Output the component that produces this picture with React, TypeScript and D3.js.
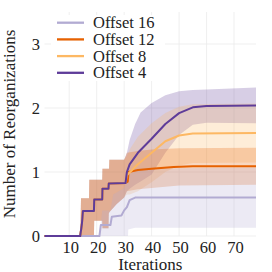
import * as React from 'react';
import * as d3 from 'd3';

// ---- data ----
const xTicks = [10, 20, 30, 40, 50, 60, 70];
const yTicks = [0, 1, 2, 3];
const seriesNames = ['Offset 16', 'Offset 12', 'Offset 8', 'Offset 4'];
const seriesColors = ['#b2abd2', '#e66101', '#fdb863', '#5e3c99'];

// shared early part (offsets 4, 8, 12 coincide before iteration 30)
const earlyMeanX = [1, 14, 14.6, 15, 19, 19.1, 22, 22.1, 24.3, 24.4, 30.5];
const earlyMean = [0, 0, 0.18, 0.39, 0.39, 0.57, 0.57, 0.74, 0.74, 0.82, 0.83];
const earlyBandX = [1, 14, 14.3, 17.2, 17.3, 19, 19.1, 22, 22.1, 24.3, 24.4, 24.5, 24.6, 27.3, 30];
const earlyHi = [0, 0, 0.59, 0.59, 0.88, 0.88, 0.88, 0.88, 1.05, 1.05, 1.05, 1.05, 1.19, 1.19, 1.19];
const earlyLo = [0, 0, 0, 0, 0, 0, 0.24, 0.24, 0.12, 0.12, 0.35, 0.36, 0.37, 0.5, 0.6];

// Offset 4
const off4MeanX = [31, 32, 35, 40, 45, 50, 55, 60, 78];
const off4Mean = [1.0, 1.12, 1.3, 1.52, 1.75, 1.92, 2.01, 2.03, 2.04];
const off4BandX = [31, 32, 34, 36, 40, 45, 50, 55, 60, 78];
const off4Hi = [1.3, 1.5, 1.75, 1.93, 2.08, 2.2, 2.26, 2.28, 2.29, 2.32];
const off4Lo = [0.7, 0.74, 0.8, 0.85, 0.96, 1.3, 1.58, 1.74, 1.77, 1.76];

// Offset 12
const off12MeanX = [31.3, 31.6, 35, 40, 48, 55, 78];
const off12Mean = [0.85, 1.0, 1.03, 1.05, 1.08, 1.09, 1.09];
const off12BandX = [31, 35, 40, 50, 78];
const off12Hi = [1.3, 1.33, 1.35, 1.37, 1.38];
const off12Lo = [0.7, 0.73, 0.75, 0.79, 0.8];

// Offset 8
const off8MeanX = [31, 35, 40, 45, 50, 55, 78];
const off8Mean = [0.95, 1.12, 1.3, 1.48, 1.57, 1.6, 1.61];
const off8BandX = [31, 32, 35, 40, 45, 50, 55, 78];
const off8Hi = [1.25, 1.35, 1.55, 1.76, 1.92, 2.02, 2.06, 2.07];
const off8Lo = [0.65, 0.65, 0.7, 0.84, 1.0, 1.1, 1.14, 1.15];

// Offset 16
const off16MeanX = [1, 21, 21.5, 25, 25.5, 29, 30, 31, 32, 34, 78];
const off16Mean = [0, 0, 0.17, 0.17, 0.3, 0.32, 0.4, 0.45, 0.56, 0.6, 0.6];
const off16BandX = [1, 21, 22, 25, 26, 30, 31.4, 31.5, 34, 78];
const off16Hi = [0, 0, 0.4, 0.4, 0.65, 0.75, 0.92, 0.93, 1.05, 1.07];
const off16Lo = [0, 0, 0, 0, 0, 0, 0, 0.1, 0.13, 0.13];

type Pt = { x: number; v: number };
type BandPt = { x: number; lo: number; hi: number };

const pts = (xs: number[], vs: number[]): Pt[] => xs.map((x, i) => ({ x, v: vs[i] }));
const bandPts = (xs: number[], lo: number[], hi: number[]): BandPt[] =>
  xs.map((x, i) => ({ x, lo: lo[i], hi: hi[i] }));

const means: Pt[][] = [
  pts(off16MeanX, off16Mean),
  pts(earlyMeanX, earlyMean).concat(pts(off12MeanX, off12Mean)),
  pts(earlyMeanX, earlyMean).concat(pts(off8MeanX, off8Mean)),
  pts(earlyMeanX, earlyMean).concat(pts(off4MeanX, off4Mean)),
];
const bands: BandPt[][] = [
  bandPts(off16BandX, off16Lo, off16Hi),
  bandPts(earlyBandX, earlyLo, earlyHi).concat(bandPts(off12BandX, off12Lo, off12Hi)),
  bandPts(earlyBandX, earlyLo, earlyHi).concat(bandPts(off8BandX, off8Lo, off8Hi)),
  bandPts(earlyBandX, earlyLo, earlyHi).concat(bandPts(off4BandX, off4Lo, off4Hi)),
];

const W = 272;
const H = 272;
const plot = { left: 44.5, right: 256, top: 12, bottom: 236 };
const font = "'Liberation Serif', 'DejaVu Serif', serif";

export default function App() {
  const x = d3.scaleLinear().domain([1, 78]).range([plot.left, plot.right]);
  const y = d3.scaleLinear().domain([0, 3.5]).range([plot.bottom, plot.top]);

  const area = d3
    .area<BandPt>()
    .x((d) => x(d.x))
    .y0((d) => y(d.lo))
    .y1((d) => y(d.hi));
  const line = d3
    .line<Pt>()
    .x((d) => x(d.x))
    .y((d) => y(d.v));

  // bands drawn purple first, then the oranges, lavender last
  const bandOrder = [3, 2, 1, 0];
  const lineOrder = [0, 1, 2, 3];
  const txt = { fontFamily: font, fill: '#222' };

  return (
    <div style={{ position: 'fixed', left: 0, top: 0 }}>
      <svg width={W} height={H} style={{ display: 'block', background: '#fff' }}>
        <defs>
          <clipPath id="plotClip">
            <rect
              x={plot.left}
              y={plot.top}
              width={plot.right - plot.left}
              height={plot.bottom - plot.top}
            />
          </clipPath>
        </defs>

        {/* grid */}
        <g stroke="#ebebeb" strokeWidth={0.8}>
          {xTicks.map((t) => (
            <line key={'gx' + t} x1={x(t)} x2={x(t)} y1={plot.top} y2={plot.bottom} />
          ))}
          {yTicks.map((t) => (
            <line key={'gy' + t} x1={plot.left} x2={plot.right} y1={y(t)} y2={y(t)} />
          ))}
        </g>

        {/* bands */}
        <g clipPath="url(#plotClip)">
          {bandOrder.map((i) => (
            <path key={'b' + i} d={area(bands[i]) ?? ''} fill={seriesColors[i]} fillOpacity={0.25} />
          ))}
        </g>

        {/* mean lines */}
        {lineOrder.map((i) => (
          <path
            key={'l' + i}
            d={line(means[i]) ?? ''}
            fill="none"
            stroke={seriesColors[i]}
            strokeWidth={2}
            strokeLinejoin="round"
          />
        ))}

        {/* tick labels */}
        {xTicks.map((t) => (
          <text key={'tx' + t} x={x(t) + 1.5} y={252.5} textAnchor="middle" style={{ ...txt, fontSize: 16.5 }}>
            {t}
          </text>
        ))}
        {yTicks.map((t) => (
          <text key={'ty' + t} x={40} y={y(t)} dy="0.34em" textAnchor="end" style={{ ...txt, fontSize: 16.5 }}>
            {t}
          </text>
        ))}

        {/* axis titles */}
        <text x={(plot.left + plot.right) / 2} y={269.5} textAnchor="middle" style={{ ...txt, fontSize: 17 }}>
          Iterations
        </text>
        <text
          transform={`translate(15, ${(plot.top + plot.bottom) / 2}) rotate(-90)`}
          textAnchor="middle"
          style={{ ...txt, fontSize: 17 }}
        >
          Number of Reorganizations
        </text>

        {/* legend */}
        <rect x={51} y={15} width={114} height={66} fill="#fff" />
        {seriesNames.map((name, i) => {
          const ly = 22.7 + i * 16.7;
          return (
            <g key={'lg' + i}>
              <line x1={57} x2={84} y1={ly} y2={ly} stroke={seriesColors[i]} strokeWidth={2.3} />
              <text x={93} y={ly} dy="0.34em" style={{ ...txt, fontSize: 16.5 }}>
                {name}
              </text>
            </g>
          );
        })}
      </svg>
    </div>
  );
}
